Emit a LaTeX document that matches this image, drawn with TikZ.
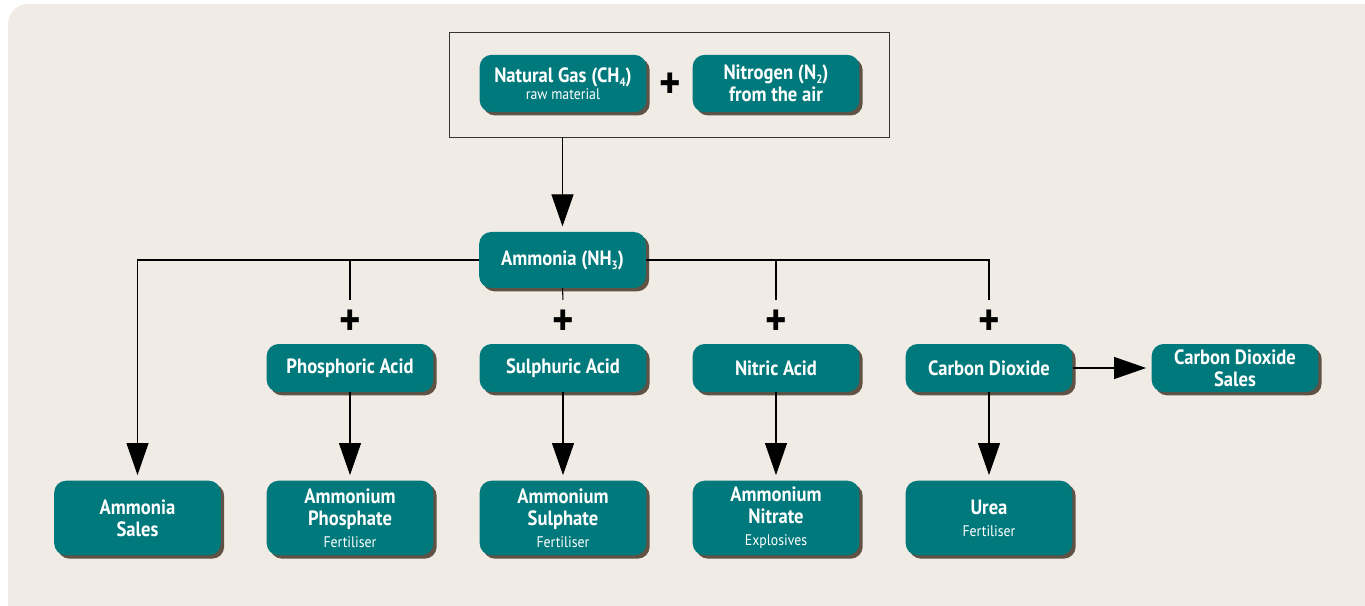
\documentclass[tikz,border=0pt]{standalone}
\usepackage{fontspec}
\setmainfont{PT Sans}[FakeStretch=0.9]
\usepackage{xcolor}
\usetikzlibrary{arrows.meta,positioning,shadows}
\definecolor{panel}{RGB}{240,235,228}
\definecolor{tealbox}{RGB}{0,121,124}
\newcommand{\subtxt}[1]{{\mdseries\fontsize{11.5}{16}\selectfont #1}}
\newcommand{\chemsub}[1]{\raisebox{-3pt}{\fontsize{9}{9}\selectfont #1}}

\begin{document}
\begin{tikzpicture}[x=0.75pt, y=-0.75pt,
    every node/.style={font=\bfseries\fontsize{15.5}{16.5}\selectfont},
    box/.style={draw=none, fill=tealbox, text=white, rounded corners=9pt,
        align=center, minimum width=125pt, minimum height=36pt, inner sep=2pt,
        drop shadow={shadow xshift=2.5pt, shadow yshift=-2.5pt, fill=black!75!brown, opacity=0.75}},
    tall/.style={box, minimum height=56pt},
    plus/.style={font=\bfseries\fontsize{34}{34}\selectfont, minimum height=34.5pt, inner sep=0pt},
    arr/.style={-{Triangle[length=24pt, width=16.5pt]}, line width=0.8pt, shorten >=4pt},
    lin/.style={line width=0.8pt}]
    \useasboundingbox (0,0) rectangle (1365,606);
    \fill[panel, rounded corners=15pt] (8,4) rectangle (1400,640);

    % Feedstock
    \node[box, minimum height=43pt] (gas) at (563,83.5) {Natural Gas (CH\chemsub{4})\\[-4pt]\subtxt{raw material}};
    \node[plus] (plustop) at (670,86) {+};
    \node[box, minimum height=43pt] (nitro) at (776,83.5) {Nitrogen (N\chemsub{2})\\from the air};
    \node[draw=black!80, line width=0.7pt, minimum width=330pt, minimum height=78.75pt] (feed) at (669,84.5) {};

    % Ammonia
    \node[box, minimum height=42pt] (ammonia) at (562.5,260) {Ammonia (NH\chemsub{3})};
    \draw[arr] (feed.south -| ammonia) -- (ammonia);

    % Second row
    \node[plus] (plusP) at (350,323) {+};
    \node[plus] (plusS) at (563,323) {+};
    \node[plus] (plusN) at (776,323) {+};
    \node[plus] (plusC) at (989,323) {+};
    \node[box] (phos) at (350,368) {Phosphoric Acid};
    \node[box] (sulph) at (563,368) {Sulphuric Acid};
    \node[box] (nitric) at (776,368) {Nitric Acid};
    \node[box] (cdox) at (989,368) {Carbon Dioxide};
    \node[box] (cdsales) at (1235,368) {Carbon Dioxide\\Sales};

    % Products
    \node[tall] (sales) at (137.5,518) {Ammonia\\Sales};
    \node[tall] (aphos) at (350,518) {Ammonium\\Phosphate\\\subtxt{Fertiliser}};
    \node[tall] (asulph) at (563,518) {Ammonium\\Sulphate\\\subtxt{Fertiliser}};
    \node[tall] (anit) at (776,518) {Ammonium\\Nitrate\\\subtxt{Explosives}};
    \node[tall] (urea) at (989,518) {Urea\\\subtxt{Fertiliser}};

    % Branches from ammonia
    \draw[arr] (ammonia.west) -| (sales);
    \draw[lin] (ammonia.west -| plusP) -- (plusP.north);
    \draw[lin] (ammonia.south) -- (plusS.north);
    \draw[lin] (ammonia.east) -| (plusC.north);
    \draw[lin] (ammonia.east -| plusN) -- (plusN.north);

    \draw[arr] (phos) -- (aphos);
    \draw[arr] (sulph) -- (asulph);
    \draw[arr] (nitric) -- (anit);
    \draw[arr] (cdox) -- (urea);
    \draw[arr] (cdox) -- (cdsales);
\end{tikzpicture}
\end{document}
